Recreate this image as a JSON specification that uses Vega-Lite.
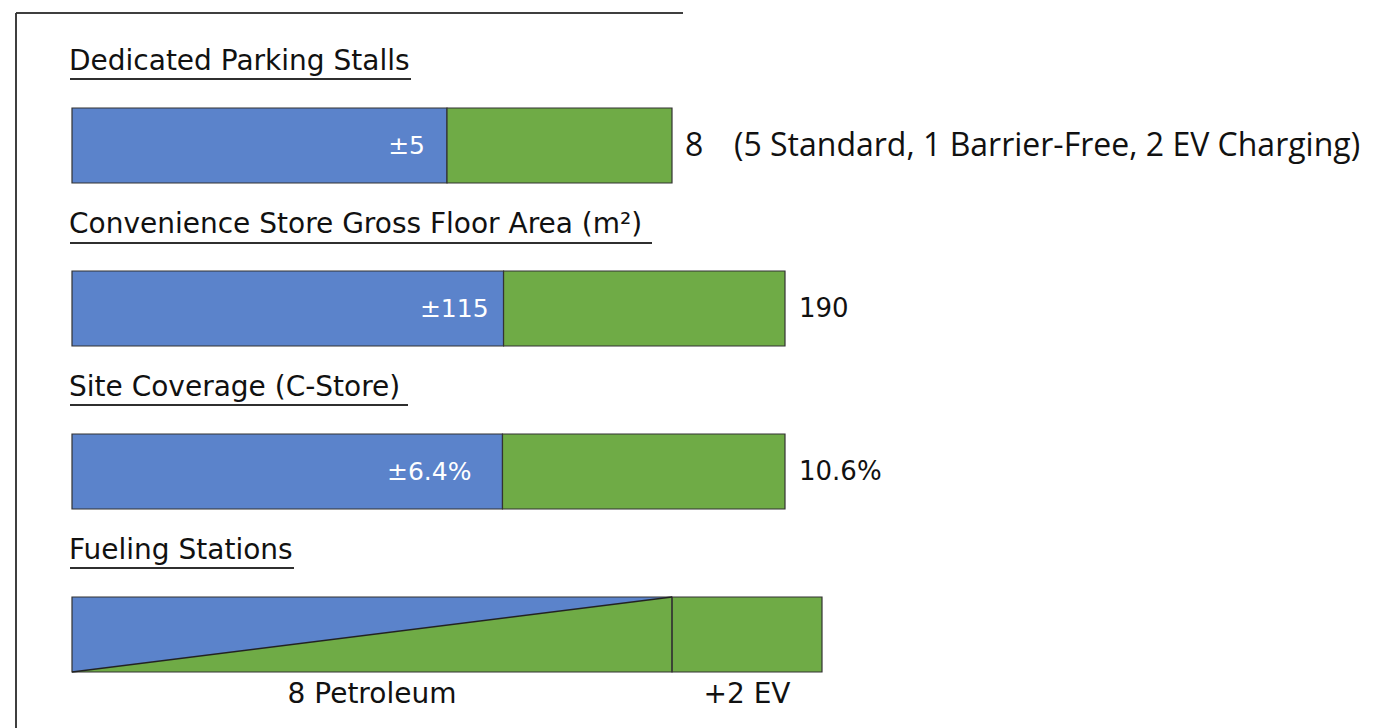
{
  "$schema": "https://vega.github.io/schema/vega-lite/v6.json",
  "background": "white",
  "padding": {"left": 15, "top": 12, "right": 0, "bottom": 0},
  "autosize": {"type": "pad"},
  "bounds": "flush",
  "spacing": 88,
  "config": {
    "view": {"stroke": null},
    "title": {"anchor": "start", "font": "DejaVu Sans", "fontSize": 28, "fontWeight": "normal", "color": "#111111", "frame": "group", "dx": -3},
    "text": {"font": "DejaVu Sans", "fontSize": 25}
  },
  "vconcat": [
    {
      "width": 600,
      "height": 75,
      "title": {"text": "Dedicated Parking Stalls", "offset": -64},
      "data": {"values": [
        {"segment": "Existing", "start": 0, "end": 5, "label": "±5"},
        {"segment": "Proposed", "start": 5, "end": 8, "label": "8", "note": "(5 Standard, 1 Barrier-Free, 2 EV Charging)"}
      ]},
      "layer": [
        {"mark": {"type": "rule", "stroke": "#333333", "strokeWidth": 1.5}, "encoding": {"x": {"value": -56}, "x2": {"value": 611}, "y": {"value": -95}}},
        {"mark": {"type": "rule", "stroke": "#333333", "strokeWidth": 1.5}, "encoding": {"x": {"value": -56}, "y": {"value": -95}, "y2": {"value": 621}}},
        {"mark": {"type": "rule", "stroke": "#222222", "strokeWidth": 1.3}, "encoding": {"x": {"value": -2}, "x2": {"value": 339}, "y": {"value": -29}}},
        {
          "mark": {"type": "rect", "stroke": "#333333", "strokeWidth": 1.2},
          "encoding": {
            "x": {"field": "start", "type": "quantitative", "scale": {"domain": [0, 8], "nice": false, "zero": false}, "axis": null},
            "x2": {"field": "end"},
            "color": {"field": "segment", "type": "nominal", "scale": {"domain": ["Existing", "Proposed"], "range": ["#5B83CB", "#6FAB46"]}, "legend": null}
          }
        },
        {
          "transform": [{"filter": "datum.segment === 'Existing'"}],
          "mark": {"type": "text", "align": "right", "baseline": "middle", "dx": -22, "color": "white"},
          "encoding": {"x": {"field": "end", "type": "quantitative"}, "text": {"field": "label"}}
        },
        {
          "transform": [{"filter": "datum.segment === 'Proposed'"}],
          "mark": {"type": "text", "align": "left", "baseline": "middle", "dx": 13, "color": "#111111", "font": "Open Sans", "fontSize": 32},
          "encoding": {"x": {"field": "end", "type": "quantitative"}, "text": {"field": "label"}}
        },
        {
          "transform": [{"filter": "datum.segment === 'Proposed'"}],
          "mark": {"type": "text", "align": "left", "baseline": "middle", "dx": 62, "color": "#111111", "font": "Open Sans", "fontSize": 32},
          "encoding": {"x": {"field": "end", "type": "quantitative"}, "text": {"field": "note"}}
        }
      ]
    },
    {
      "width": 713,
      "height": 75,
      "title": {"text": "Convenience Store Gross Floor Area (m²)", "offset": 3},
      "data": {"values": [
        {"segment": "Existing", "start": 0, "end": 115, "label": "±115"},
        {"segment": "Proposed", "start": 115, "end": 190, "label": "190"}
      ]},
      "layer": [
        {"mark": {"type": "rule", "stroke": "#222222", "strokeWidth": 1.3}, "encoding": {"x": {"value": -2}, "x2": {"value": 580}, "y": {"value": -28}}},
        {
          "mark": {"type": "rect", "stroke": "#333333", "strokeWidth": 1.2},
          "encoding": {
            "x": {"field": "start", "type": "quantitative", "scale": {"domain": [0, 190], "nice": false, "zero": false}, "axis": null},
            "x2": {"field": "end"},
            "color": {"field": "segment", "type": "nominal", "scale": {"domain": ["Existing", "Proposed"], "range": ["#5B83CB", "#6FAB46"]}, "legend": null}
          }
        },
        {
          "transform": [{"filter": "datum.segment === 'Existing'"}],
          "mark": {"type": "text", "align": "right", "baseline": "middle", "dx": -15, "color": "white"},
          "encoding": {"x": {"field": "end", "type": "quantitative"}, "text": {"field": "label"}}
        },
        {
          "transform": [{"filter": "datum.segment === 'Proposed'"}],
          "mark": {"type": "text", "align": "left", "baseline": "middle", "dx": 14, "color": "#111111", "fontSize": 26},
          "encoding": {"x": {"field": "end", "type": "quantitative"}, "text": {"field": "label"}}
        }
      ]
    },
    {
      "width": 713,
      "height": 75,
      "title": {"text": "Site Coverage (C-Store)", "offset": 2},
      "data": {"values": [
        {"segment": "Existing", "start": 0, "end": 6.4, "label": "±6.4%"},
        {"segment": "Proposed", "start": 6.4, "end": 10.6, "label": "10.6%"}
      ]},
      "layer": [
        {"mark": {"type": "rule", "stroke": "#222222", "strokeWidth": 1.3}, "encoding": {"x": {"value": -2}, "x2": {"value": 336}, "y": {"value": -29}}},
        {
          "mark": {"type": "rect", "stroke": "#333333", "strokeWidth": 1.2},
          "encoding": {
            "x": {"field": "start", "type": "quantitative", "scale": {"domain": [0, 10.6], "nice": false, "zero": false}, "axis": null},
            "x2": {"field": "end"},
            "color": {"field": "segment", "type": "nominal", "scale": {"domain": ["Existing", "Proposed"], "range": ["#5B83CB", "#6FAB46"]}, "legend": null}
          }
        },
        {
          "transform": [{"filter": "datum.segment === 'Existing'"}],
          "mark": {"type": "text", "align": "right", "baseline": "middle", "dx": -31, "color": "white"},
          "encoding": {"x": {"field": "end", "type": "quantitative"}, "text": {"field": "label"}}
        },
        {
          "transform": [{"filter": "datum.segment === 'Proposed'"}],
          "mark": {"type": "text", "align": "left", "baseline": "middle", "dx": 14, "color": "#111111", "fontSize": 26},
          "encoding": {"x": {"field": "end", "type": "quantitative"}, "text": {"field": "label"}}
        }
      ]
    },
    {
      "width": 750,
      "height": 75,
      "title": {"text": "Fueling Stations", "offset": 2},
      "data": {"values": [
        {"type": "Petroleum", "start": 0, "end": 8, "label": "8 Petroleum"},
        {"type": "EV", "start": 8, "end": 10, "label": "+2 EV"}
      ]},
      "layer": [
        {"mark": {"type": "rule", "stroke": "#222222", "strokeWidth": 1.3}, "encoding": {"x": {"value": -2}, "x2": {"value": 222}, "y": {"value": -29}}},
        {
          "data": {"values": [{"pos": 0, "share": 0}, {"pos": 8, "share": 1}]},
          "mark": {"type": "area", "color": "#5B83CB"},
          "encoding": {
            "x": {"field": "pos", "type": "quantitative", "scale": {"domain": [0, 10], "nice": false, "zero": false}, "axis": null},
            "y": {"field": "share", "type": "quantitative", "scale": {"domain": [0, 1], "nice": false}, "axis": null},
            "y2": {"datum": 1}
          }
        },
        {
          "data": {"values": [{"pos": 0, "share": 0}, {"pos": 8, "share": 1}]},
          "mark": {"type": "area", "color": "#6FAB46"},
          "encoding": {
            "x": {"field": "pos", "type": "quantitative"},
            "y": {"field": "share", "type": "quantitative"},
            "y2": {"datum": 0}
          }
        },
        {
          "transform": [{"filter": "datum.type === 'EV'"}],
          "mark": {"type": "rect", "fill": "#6FAB46", "stroke": "#333333", "strokeWidth": 1.2},
          "encoding": {
            "x": {"field": "start", "type": "quantitative"},
            "x2": {"field": "end"},
            "y": {"datum": 0, "type": "quantitative"},
            "y2": {"datum": 1}
          }
        },
        {
          "transform": [{"filter": "datum.type === 'Petroleum'"}],
          "mark": {"type": "rect", "fill": null, "fillOpacity": 0, "stroke": "#333333", "strokeWidth": 1.2},
          "encoding": {
            "x": {"field": "start", "type": "quantitative"},
            "x2": {"field": "end"},
            "y": {"datum": 0, "type": "quantitative"},
            "y2": {"datum": 1}
          }
        },
        {
          "data": {"values": [{"pos": 0, "share": 0}, {"pos": 8, "share": 1}]},
          "mark": {"type": "line", "color": "#222222", "strokeWidth": 1.3},
          "encoding": {
            "x": {"field": "pos", "type": "quantitative"},
            "y": {"field": "share", "type": "quantitative"}
          }
        },
        {
          "transform": [{"calculate": "(datum.start + datum.end) / 2", "as": "mid"}],
          "mark": {"type": "text", "align": "center", "baseline": "middle", "dy": 23, "color": "#111111", "fontSize": 28},
          "encoding": {
            "x": {"field": "mid", "type": "quantitative"},
            "y": {"datum": 0, "type": "quantitative"},
            "text": {"field": "label"}
          }
        }
      ]
    }
  ]
}
